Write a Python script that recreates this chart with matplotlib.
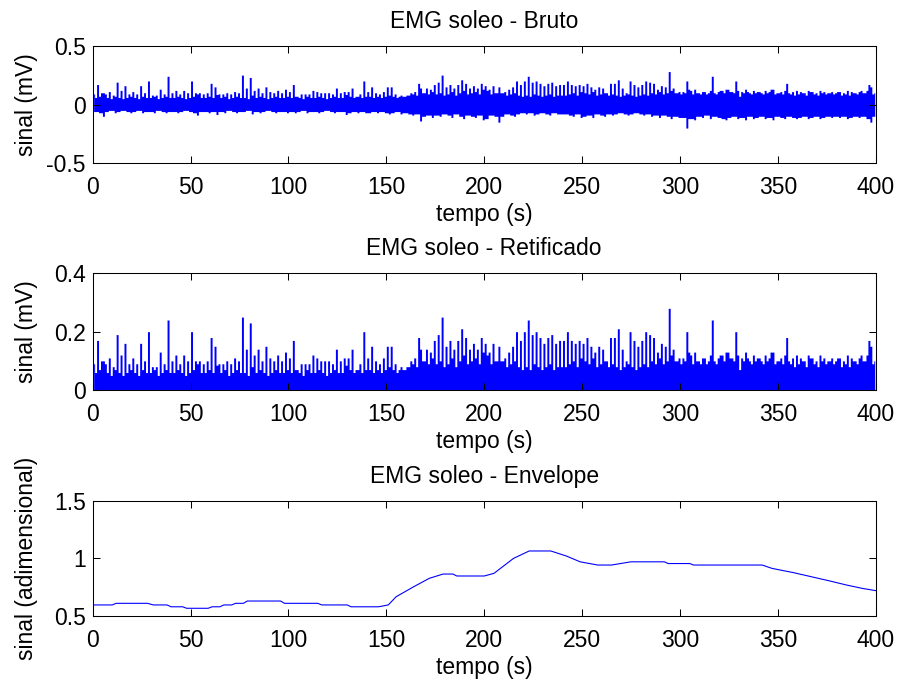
import numpy as np
import matplotlib
matplotlib.use('Agg')
import matplotlib.pyplot as plt

plt.rcParams['font.family'] = ['Liberation Sans', 'DejaVu Sans']
plt.rcParams['font.size'] = 16.5

# raw EMG: local maxima (t = 0, 2, 4, ... s) and local minima (t = 1, 3, 5, ... s), mV
raw_hi = [
    0.09, 0.17, 0.10, 0.09, 0.11, 0.08, 0.19, 0.12, 0.16, 0.09,
    0.11, 0.09, 0.16, 0.10, 0.20, 0.08, 0.08, 0.13, 0.09, 0.24,
    0.10, 0.12, 0.09, 0.12, 0.10, 0.20, 0.10, 0.10, 0.09, 0.10,
    0.18, 0.15, 0.09, 0.09, 0.10, 0.09, 0.11, 0.10, 0.25, 0.14,
    0.23, 0.12, 0.14, 0.10, 0.15, 0.11, 0.10, 0.12, 0.10, 0.13,
    0.11, 0.17, 0.07, 0.09, 0.09, 0.09, 0.12, 0.11, 0.10, 0.10,
    0.10, 0.09, 0.14, 0.10, 0.11, 0.11, 0.14, 0.07, 0.09, 0.20,
    0.11, 0.15, 0.10, 0.09, 0.11, 0.15, 0.15, 0.09, 0.07, 0.07,
    0.08, 0.10, 0.11, 0.18, 0.10, 0.14, 0.13, 0.17, 0.19, 0.25,
    0.15, 0.17, 0.14, 0.17, 0.21, 0.18, 0.14, 0.16, 0.14, 0.18,
    0.16, 0.13, 0.16, 0.10, 0.10, 0.11, 0.13, 0.15, 0.20, 0.17,
    0.20, 0.24, 0.19, 0.20, 0.18, 0.16, 0.18, 0.19, 0.16, 0.17,
    0.17, 0.20, 0.17, 0.16, 0.17, 0.16, 0.18, 0.15, 0.13, 0.15,
    0.14, 0.10, 0.18, 0.18, 0.21, 0.14, 0.10, 0.20, 0.17, 0.15,
    0.17, 0.20, 0.19, 0.18, 0.13, 0.16, 0.15, 0.28, 0.14, 0.10,
    0.09, 0.10, 0.13, 0.09, 0.10, 0.09, 0.11, 0.10, 0.24, 0.09,
    0.12, 0.10, 0.13, 0.11, 0.20, 0.07, 0.10, 0.11, 0.09, 0.10,
    0.11, 0.09, 0.10, 0.13, 0.09, 0.10, 0.09, 0.18, 0.09, 0.08,
    0.09, 0.10, 0.08, 0.11, 0.09, 0.08, 0.10, 0.09, 0.10, 0.09,
    0.11, 0.08, 0.09, 0.08, 0.10, 0.09, 0.12, 0.10, 0.17, 0.09,
]
raw_lo = [
    -0.06, -0.07, -0.10, -0.06, -0.05, -0.07, -0.06, -0.05, -0.06, -0.07,
    -0.06, -0.05, -0.07, -0.06, -0.06, -0.07, -0.05, -0.06, -0.07, -0.06,
    -0.06, -0.07, -0.06, -0.05, -0.06, -0.07, -0.09, -0.06, -0.06, -0.07,
    -0.06, -0.085, -0.06, -0.07, -0.05, -0.06, -0.07, -0.06, -0.06, -0.05,
    -0.08, -0.06, -0.07, -0.06, -0.05, -0.06, -0.07, -0.06, -0.06, -0.07,
    -0.06, -0.07, -0.06, -0.05, -0.07, -0.06, -0.06, -0.07, -0.06, -0.05,
    -0.06, -0.07, -0.06, -0.06, -0.085, -0.07, -0.06, -0.07, -0.06, -0.07,
    -0.07, -0.06, -0.07, -0.06, -0.07, -0.08, -0.07, -0.06, -0.08, -0.07,
    -0.08, -0.09, -0.08, -0.14, -0.10, -0.09, -0.11, -0.09, -0.10, -0.08,
    -0.09, -0.11, -0.08, -0.10, -0.12, -0.09, -0.10, -0.11, -0.09, -0.13,
    -0.12, -0.09, -0.10, -0.15, -0.10, -0.08, -0.09, -0.10, -0.08, -0.07,
    -0.08, -0.07, -0.09, -0.08, -0.07, -0.08, -0.09, -0.07, -0.08, -0.08,
    -0.08, -0.09, -0.10, -0.08, -0.11, -0.10, -0.09, -0.11, -0.08, -0.09,
    -0.10, -0.08, -0.09, -0.08, -0.07, -0.08, -0.09, -0.08, -0.07, -0.08,
    -0.09, -0.08, -0.10, -0.09, -0.11, -0.09, -0.10, -0.12, -0.10, -0.11,
    -0.11, -0.20, -0.12, -0.13, -0.10, -0.11, -0.09, -0.12, -0.10, -0.11,
    -0.12, -0.13, -0.11, -0.10, -0.12, -0.11, -0.13, -0.10, -0.12, -0.11,
    -0.10, -0.12, -0.11, -0.13, -0.10, -0.11, -0.12, -0.10, -0.11, -0.12,
    -0.11, -0.10, -0.12, -0.11, -0.10, -0.12, -0.11, -0.10, -0.11, -0.10,
    -0.11, -0.10, -0.12, -0.11, -0.10, -0.11, -0.10, -0.12, -0.15, -0.10,
]

# envelope (normalised), read at these times
env_t = [0, 10, 12, 28, 31, 38, 40, 46, 48, 59, 61, 65, 67, 71, 73, 77, 79, 96,
         98, 115, 117, 130, 132, 146, 151, 155, 164, 172, 179, 184, 186, 200,
         205, 215, 223, 234, 242, 249, 258, 265, 275, 292, 294, 305, 307, 342,
         347, 358, 367, 376, 385, 393, 400]
env_v = [0.596, 0.596, 0.61, 0.61, 0.596, 0.596, 0.58, 0.58, 0.567, 0.567,
         0.58, 0.58, 0.596, 0.596, 0.61, 0.61, 0.63, 0.63, 0.61, 0.61, 0.596,
         0.596, 0.58, 0.58, 0.596, 0.667, 0.754, 0.827, 0.864, 0.864, 0.847,
         0.847, 0.87, 1.0, 1.064, 1.064, 1.02, 0.97, 0.942, 0.942, 0.97, 0.97,
         0.955, 0.955, 0.942, 0.942, 0.913, 0.876, 0.841, 0.806, 0.769, 0.74,
         0.72]

x_ticks = [0, 50, 100, 150, 200, 250, 300, 350, 400]

raw_hi = np.array(raw_hi)
raw_lo = np.array(raw_lo)

# one column per second: even seconds hold the maxima, odd seconds the minima
t = np.arange(400) + 0.5
raw = np.empty(400)
raw[0::2] = raw_hi
raw[1::2] = raw_lo
rect = np.abs(raw)

# column extents of the raw trace
col_top = rect.copy()
col_bot = np.empty(400)
col_bot[1::2] = raw_lo
col_bot[0::2] = np.maximum(raw_lo, np.insert(raw_lo[:-1], 0, raw_lo[0]))

blue = (0, 0, 1)


def style(ax, title, ylabel, yticks, yticklabels):
    ax.set_xlim(0, 400)
    ax.set_xticks(x_ticks)
    ax.set_xticklabels([str(v) for v in x_ticks])
    ax.set_yticks(yticks)
    ax.set_yticklabels(yticklabels)
    ax.set_ylim(yticks[0], yticks[-1])
    ax.tick_params(direction='in', top=True, right=True, length=5, width=0.75)
    ax.tick_params(axis='x', pad=9)
    ax.tick_params(axis='y', pad=5)
    for s in ax.spines.values():
        s.set_linewidth(0.75)
    ax.set_title(title, pad=13, fontsize=16.5)
    ax.set_xlabel('tempo (s)', labelpad=3)
    ax.set_ylabel(ylabel)
    ax.yaxis.set_label_coords(-0.070, 0.5)


fig = plt.figure(figsize=(8.97, 6.84), dpi=100)

ax1 = fig.add_axes([0.1033, 0.7612, 0.873, 0.172])
ax1.fill_between(t, col_bot, col_top, step='mid', color=blue, lw=0)
style(ax1, 'EMG soleo - Bruto', 'sinal (mV)', [-0.5, 0, 0.5], ['-0.5', '0', '0.5'])

ax2 = fig.add_axes([0.1033, 0.4298, 0.873, 0.1706])
ax2.fill_between(t, 0, rect, step='mid', color=blue, lw=0)
style(ax2, 'EMG soleo - Retificado', 'sinal (mV)', [0, 0.2, 0.4], ['0', '0.2', '0.4'])

ax3 = fig.add_axes([0.1033, 0.0994, 0.873, 0.1686])
ax3.plot(env_t, env_v, color=blue, lw=0.8)
style(ax3, 'EMG soleo - Envelope', 'sinal (adimensional)', [0.5, 1, 1.5], ['0.5', '1', '1.5'])

fig.savefig('out.png', dpi=100)
